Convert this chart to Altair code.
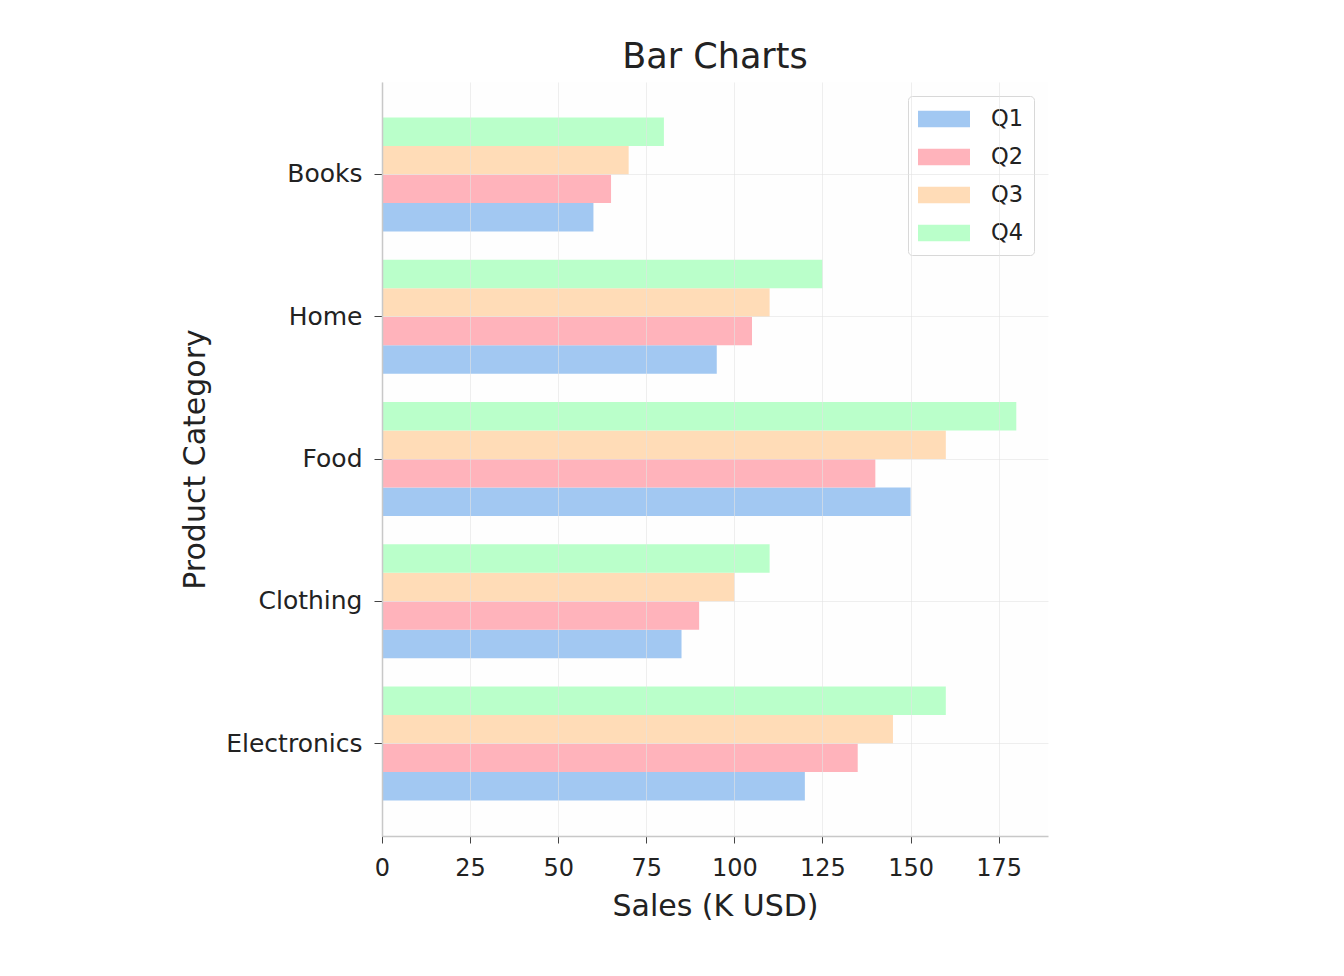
import altair as alt
import pandas as pd

categories = ["Books", "Home", "Food", "Clothing", "Electronics"]
quarters = ["Q1", "Q2", "Q3", "Q4"]
q1 = [60, 95, 150, 85, 120]
q2 = [65, 105, 140, 90, 135]
q3 = [70, 110, 160, 100, 145]
q4 = [80, 125, 180, 110, 160]
colors = ["#a2c8f2", "#ffb3bb", "#ffdcb7", "#baffca"]

rows = []
for qi, vals in zip(quarters, [q1, q2, q3, q4]):
    for c, v in zip(categories, vals):
        rows.append({"Category": c, "Quarter": qi, "Sales": v})
df = pd.DataFrame(rows)

FONT = "DejaVu Sans"

bars = alt.Chart(df).mark_bar(opacity=1).encode(
    x=alt.X("Sales:Q", title="Sales (K USD)",
            scale=alt.Scale(domain=[0, 189], nice=False, zero=True),
            axis=alt.Axis(values=[0, 25, 50, 75, 100, 125, 150, 175], format="d",
                          grid=True, gridColor="#e3e3e3", gridOpacity=0.6,
                          domainColor="#c8c8c8", domainWidth=1.5,
                          tickColor="#444444", tickSize=7, labelFlush=False,
                          labelFontSize=24, labelColor="#222222", labelPadding=13,
                          titleFontSize=30, titleColor="#222222", titleFontWeight="normal",
                          titlePadding=11, labelFont=FONT, titleFont=FONT, zindex=1)),
    y=alt.Y("Category:N", sort=categories, title="Product Category",
            scale=alt.Scale(paddingInner=0.2, paddingOuter=0.25),
            axis=alt.Axis(grid=True, gridColor="#e3e3e3", gridOpacity=0.6,
                          domainColor="#c8c8c8", domainWidth=1.5,
                          tickColor="#444444", tickSize=8,
                          labelFontSize=25, labelColor="#222222", labelPadding=12,
                          titleFontSize=30, titleColor="#222222", titleFontWeight="normal",
                          titlePadding=15, labelFont=FONT, titleFont=FONT, zindex=1)),
    yOffset=alt.YOffset("Quarter:N", sort=["Q4", "Q3", "Q2", "Q1"]),
    color=alt.Color("Quarter:N", sort=quarters,
                    scale=alt.Scale(domain=quarters, range=colors),
                    legend=alt.Legend(title=None, orient="none", legendX=526, legendY=14,
                                      symbolType="M-1,-0.64L3,-0.64L3,0.64L-1,0.64Z",
                                      symbolSize=676, symbolStrokeWidth=0, symbolOpacity=1,
                                      labelFontSize=22.5, labelFont=FONT, labelColor="#222222",
                                      rowPadding=13, labelOffset=47,
                                      padding=10, strokeColor="#d8d8d8", cornerRadius=4,
                                      fillColor="white")),
)

chart = bars.properties(
    width=666, height=754,
    background="white",
    title=alt.TitleParams("Bar Charts", fontSize=35, font=FONT, fontWeight="normal",
                          color="#222222", offset=7),
    autosize=alt.AutoSizeParams(type="none"),
    padding={"left": 374, "top": 74, "right": 10, "bottom": 130},
).configure_view(strokeWidth=0, stroke="transparent", fill="#fefefe")

chart.save("out.html", embed_options={"renderer": "svg", "actions": False})
